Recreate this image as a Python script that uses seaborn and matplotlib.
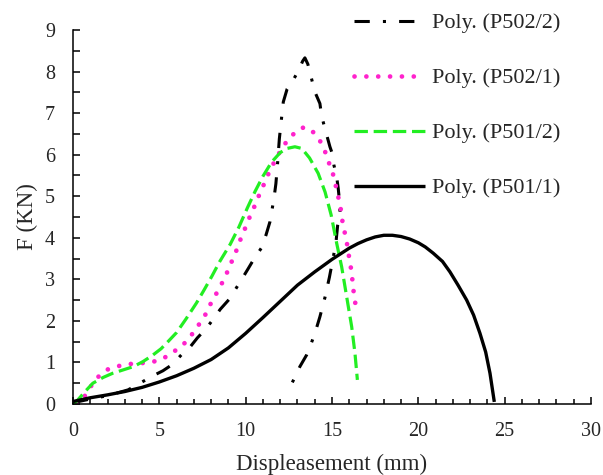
import matplotlib
matplotlib.use("Agg")
import matplotlib.pyplot as plt
import seaborn as sns
import pandas as pd
from matplotlib.ticker import MultipleLocator

# ---- data ----
x_p502_2 = [0, 1, 2, 3.19, 3.92, 4.54, 5.21, 5.75, 6.27, 6.76, 7.2, 7.72, 8.1, 8.53, 9.09, 9.38, 9.77,
            10.15, 10.48, 10.92, 11.18, 11.41, 11.5, 11.64, 11.75, 11.85, 11.95, 12.07, 12.18, 12.4,
            12.76, 13.09, 13.3, 13.43, 13.6, 13.82, 14.01, 14.3, 14.4, 14.59, 14.88, 14.98, 15.11, 15.27,
            15.36, 15.43, 15.46, 15.4, 15.33, 15.22, 15.02, 14.85, 14.59, 14.3, 14.01, 13.7, 13.53,
            13.14, 12.8, 12.53]
y_p502_2 = [0.03, 0.12, 0.2, 0.34, 0.51, 0.66, 0.8, 0.95, 1.18, 1.36, 1.59, 1.82, 2.03, 2.28, 2.54, 2.74, 3.0,
            3.26, 3.49, 3.76, 4.07, 4.39, 4.61, 4.95, 5.3, 5.8, 6.38, 6.85, 7.27, 7.58,
            7.8, 8.05, 8.25, 8.33, 8.18, 7.82, 7.51, 7.23, 6.93, 6.63, 6.19, 6.07, 5.75, 5.47,
            5.19, 4.9, 4.63, 4.45, 4.31, 3.85, 3.42, 3.05, 2.56, 2.1, 1.7, 1.35, 1.18,
            0.9, 0.6, 0.38]

x_p502_1 = [0.2, 0.39, 0.77, 1.12, 1.5, 2.0, 2.6, 3.24, 3.86, 4.48, 5.12, 5.64, 6.14, 6.62, 7.0, 7.34,
            7.68, 7.97, 8.28, 8.57, 8.86, 9.09, 9.38, 9.57, 9.82, 10.06, 10.29, 10.56, 10.8, 11.06,
            11.31, 11.75, 12.18, 12.6, 13.07, 13.4, 13.68, 14.15, 14.45, 14.69, 14.88, 15.11, 15.23,
            15.36, 15.5, 15.62, 15.85, 15.94, 16.04, 16.14, 16.2, 16.27, 16.37]
y_p502_1 = [0.0, 0.04, 0.24, 0.48, 0.67, 0.83, 0.91, 0.96, 0.98, 1.0, 1.07, 1.2, 1.35, 1.52, 1.74, 1.94,
            2.16, 2.41, 2.64, 2.86, 3.1, 3.34, 3.59, 3.83, 4.08, 4.32, 4.56, 4.8, 5.05, 5.29,
            5.53, 5.9, 6.21, 6.43, 6.61, 6.66, 6.63, 6.45, 6.22, 5.98, 5.73, 5.47, 5.23,
            4.99, 4.71, 4.35, 3.91, 3.66, 3.41, 3.16, 2.9, 2.64, 2.37]

x_p501_2 = [0, 0.2, 0.7, 1.15, 1.75, 2.3, 2.9, 3.5, 4.05, 4.6, 5.1, 5.5, 6.0, 6.55, 7.15, 7.6, 8.05,
            8.5, 9.1, 9.6, 10.1, 10.55, 11.0, 11.5, 12.0, 12.4, 12.85, 13.25, 13.7, 14.2, 14.6,
            14.95, 15.27, 15.56, 15.85, 16.14, 16.33, 16.47]
y_p501_2 = [0.0, 0.06, 0.3, 0.5, 0.64, 0.74, 0.82, 0.9, 1.02, 1.17, 1.33, 1.5, 1.72, 2.05, 2.43, 2.75, 3.08,
            3.43, 3.84, 4.25, 4.72, 5.12, 5.48, 5.82, 6.05, 6.15, 6.19, 6.15, 5.92, 5.55, 5.1,
            4.55, 3.87, 3.3, 2.58, 1.86, 1.22, 0.58]

x_p501_1 = [0, 1, 2, 3, 4, 5, 6, 7, 8, 9, 10, 11, 12, 13, 14, 15, 16, 16.5, 17, 17.5, 18, 18.5, 19,
            19.5, 20, 20.4, 20.86, 21.4, 21.83, 22.3, 22.8, 23.2, 23.57, 23.9, 24.15, 24.4]
y_p501_1 = [0.06, 0.15, 0.22, 0.3, 0.4, 0.53, 0.68, 0.86, 1.07, 1.35, 1.7, 2.08, 2.47, 2.86, 3.18, 3.48,
            3.75, 3.86, 3.95, 4.02, 4.06, 4.06, 4.03, 3.97, 3.88, 3.78, 3.63, 3.43, 3.18, 2.86,
            2.5, 2.14, 1.7, 1.25, 0.74, 0.05]

labels = ["Poly. (P502/2)", "Poly. (P502/1)", "Poly. (P501/2)", "Poly. (P501/1)"]
x_ticks = [0, 5, 10, 15, 20, 25, 30]
y_ticks = [0, 1, 2, 3, 4, 5, 6, 7, 8, 9]

sns.set_theme(style="white")
plt.rcParams["font.family"] = ["Liberation Serif", "DejaVu Serif"]

fig = plt.figure(figsize=(6.03, 4.75), dpi=100)
ax = fig.add_axes([73 / 603, 1 - 404 / 475, (591 - 73) / 603, (404 - 30) / 475])

series = [
    (x_p502_2, y_p502_2, labels[0], "black", 2.2, (0, (5, 4.3, 1, 4.3)), "butt"),
    (x_p502_1, y_p502_1, labels[1], "#FF22CC", 3.4, (0, (0.01, 2.5)), "round"),
    (x_p501_2, y_p501_2, labels[2], "#22EE22", 2.3, (0, (4.2, 1.8)), "butt"),
    (x_p501_1, y_p501_1, labels[3], "black", 2.4, "-", "butt"),
]
for xs, ys, lab, col, lw, ls, cap in series:
    df = pd.DataFrame({"x": xs, "y": ys})
    sns.lineplot(data=df, x="x", y="y", sort=False, estimator=None, ax=ax, color=col,
                 linewidth=lw, linestyle=ls, label=lab, dash_capstyle=cap,
                 solid_joinstyle="round", solid_capstyle="butt")

ax.set_xlim(0, 30)
ax.set_ylim(0, 9)
ax.set_xticks(x_ticks)
ax.set_yticks(y_ticks)
ax.xaxis.set_minor_locator(MultipleLocator(1))
ax.yaxis.set_minor_locator(MultipleLocator(0.5))
ax.tick_params(axis="both", which="both", direction="in", color="black", width=1.1,
               labelsize=14.5, pad=13, bottom=True, left=True)
ax.tick_params(axis="x", which="major", length=5)
ax.tick_params(axis="x", which="minor", length=3.5)
ax.tick_params(axis="y", which="both", length=5)
for s in ["top", "right"]:
    ax.spines[s].set_visible(False)
for s in ["left", "bottom"]:
    ax.spines[s].set_color("black")
    ax.spines[s].set_linewidth(1.1)

ax.set_xlabel("Displeasement (mm)", fontsize=16.5, labelpad=9)
ax.set_ylabel("F (KN)", fontsize=16.5, labelpad=5)

ax.get_legend().remove()
handles, labs = ax.get_legend_handles_labels()
fig.legend(handles, labs, loc="upper left", bbox_to_anchor=(345 / 603, 1 - 4 / 475),
           frameon=False, fontsize=16, handlelength=3.2, handletextpad=0.3,
           labelspacing=1.55, borderaxespad=0)

fig.savefig("out.png", dpi=100, facecolor="white")
